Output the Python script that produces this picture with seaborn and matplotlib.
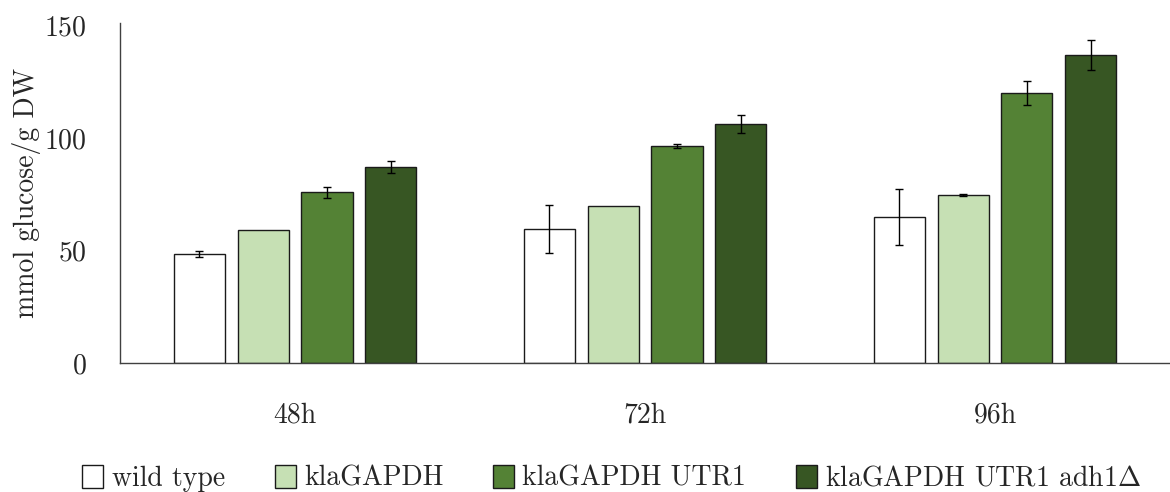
import pandas as pd
import numpy as np
import seaborn as sns
import matplotlib.pyplot as plt

# data
times = ['48h', '72h', '96h']
strains = ['wild type', 'klaGAPDH', 'klaGAPDH UTR1', r'klaGAPDH UTR1 adh1$\Delta$']
wild_type = [48.5, 59.6, 64.9]
kla_gapdh = [58.9, 69.7, 74.6]
kla_utr1 = [75.8, 96.5, 119.8]
kla_utr1_adh = [87.1, 106.2, 137.0]
err_wild_type = [1.2, 10.5, 12.4]
err_kla_gapdh = [0.0, 0.0, 0.5]
err_kla_utr1 = [2.3, 1.0, 5.3]
err_kla_utr1_adh = [2.8, 4.1, 6.7]
colors = ['#ffffff', '#c6e0b4', '#548235', '#375623']

vals = [wild_type, kla_gapdh, kla_utr1, kla_utr1_adh]
errs = [err_wild_type, err_kla_gapdh, err_kla_utr1, err_kla_utr1_adh]
rows = []
for s, v, e in zip(strains, vals, errs):
    for t, y, ye in zip(times, v, e):
        rows.append({'time': t, 'strain': s, 'glucose': y, 'err': ye})
df = pd.DataFrame(rows)

sns.set_style('white')
plt.rcParams['font.family'] = ['cmr10', 'DejaVu Serif']
plt.rcParams['mathtext.fontset'] = 'cm'
plt.rcParams['axes.formatter.use_mathtext'] = True

fig = plt.figure(figsize=(11.7, 4.92), dpi=100)
ax = fig.add_axes([0.1026, 0.262, 0.8974, 0.691])

sns.barplot(data=df, x='time', y='glucose', hue='strain', hue_order=strains,
            palette=colors, saturation=1, width=0.73, gap=0.2, errorbar=None,
            edgecolor='#1a1a1a', linewidth=1.0, ax=ax)

# error bars on each bar (skip the ones with no spread)
for cont, s in zip(ax.containers, strains):
    sub = df[df.strain == s]
    xs = np.array([p.get_x() + p.get_width() / 2 for p in cont.patches])
    keep = sub.err.values > 0
    ax.errorbar(xs[keep], sub.glucose.values[keep], yerr=sub.err.values[keep],
                fmt='none', ecolor='black', elinewidth=1.0, capsize=3,
                capthick=1.0)

ax.set_xlim(-0.5, 2.5)
ax.set_ylim(0, 151)
ax.set_yticks([0, 50, 100, 150])
ax.set_xlabel('')
ax.set_ylabel('mmol glucose/g DW', fontsize=20, labelpad=2)
ax.tick_params(axis='both', length=0, labelsize=20)
ax.tick_params(axis='y', pad=24)
ax.tick_params(axis='x', pad=28)
for side in ['top', 'right']:
    ax.spines[side].set_visible(False)
for side in ['left', 'bottom']:
    ax.spines[side].set_color('#404040')
    ax.spines[side].set_linewidth(1.0)

handles, labels = ax.get_legend_handles_labels()
ax.get_legend().remove()
fig.legend(handles, labels, loc='center', bbox_to_anchor=(0.523, 0.028),
           ncol=4, frameon=False, fontsize=20, handlelength=0.75,
           handleheight=0.9, handletextpad=0.3, columnspacing=1.8)

fig.savefig('out.png', dpi=100)
